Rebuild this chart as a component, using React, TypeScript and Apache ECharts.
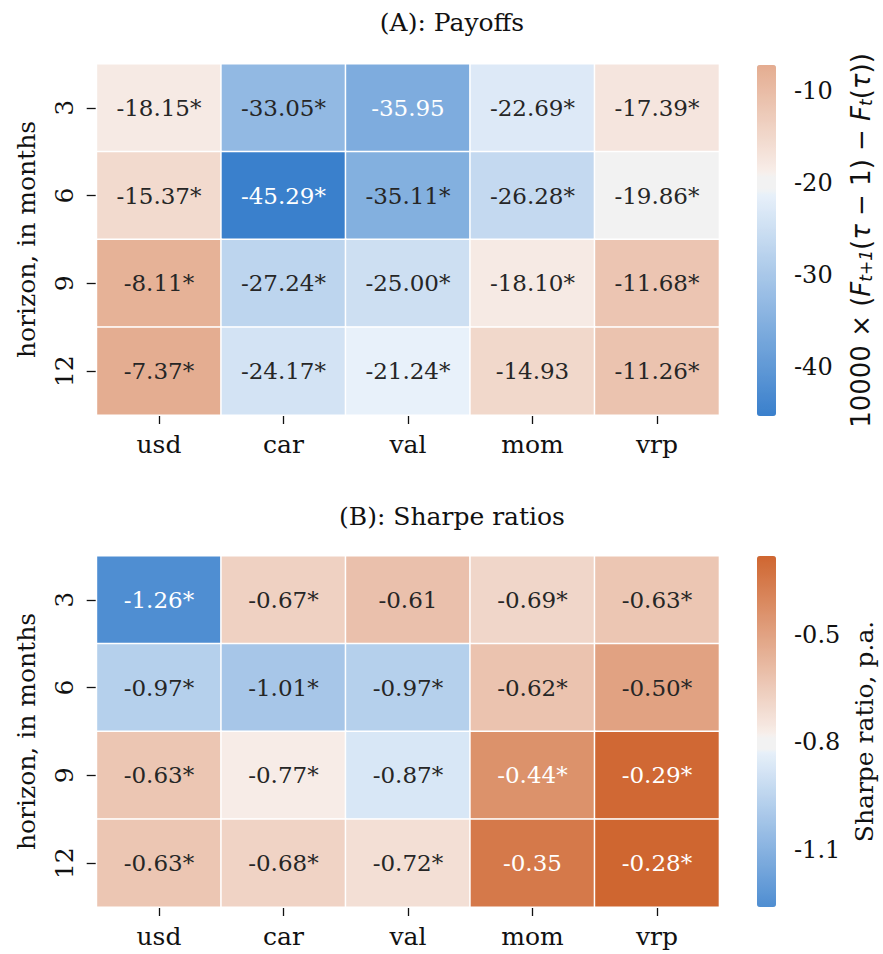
import React, { useEffect, useRef } from "react";
import * as echarts from "echarts";

const factors = ["usd", "car", "val", "mom", "vrp"];
const horizons = ["3", "6", "9", "12"];

// Panel A: payoffs (rows = horizons, cols = factors)
const payoffs = [
  [-18.15, -33.05, -35.95, -22.69, -17.39],
  [-15.37, -45.29, -35.11, -26.28, -19.86],
  [-8.11, -27.24, -25.0, -18.1, -11.68],
  [-7.37, -24.17, -21.24, -14.93, -11.26],
];
const payoffSig = [
  [1, 1, 0, 1, 1],
  [1, 1, 1, 1, 1],
  [1, 1, 1, 1, 1],
  [1, 1, 1, 0, 1],
];

// Panel B: Sharpe ratios
const sharpe = [
  [-1.26, -0.67, -0.61, -0.69, -0.63],
  [-0.97, -1.01, -0.97, -0.62, -0.5],
  [-0.63, -0.77, -0.87, -0.44, -0.29],
  [-0.63, -0.68, -0.72, -0.35, -0.28],
];
const sharpeSig = [
  [1, 1, 0, 1, 1],
  [1, 1, 1, 1, 1],
  [1, 1, 1, 1, 1],
  [1, 1, 1, 0, 1],
];

const payoffTicks = [-40, -30, -20, -10];
const sharpeTicks = [-1.1, -0.8, -0.5];

const payoffRange = { min: -45.29, max: -7.2, center: -20 };
const sharpeRange = { min: -1.26, max: -0.28, center: -0.8 };

const BLUE = [58, 128, 204];
const BLUE_LIGHT = [234, 242, 250];
const MID = [242, 242, 242];
const ORANGE_LIGHT = [248, 239, 235];
const ORANGE = [207, 102, 48];
const BAND = 0.037;

function colorRGB(v: number, r: { min: number; max: number; center: number }) {
  const d = Math.max(r.center - r.min, r.max - r.center);
  let t = (v - r.center) / d;
  t = Math.max(-1, Math.min(1, t));
  const a0 = Math.abs(t);
  if (a0 < BAND) return MID.slice();
  const a = (a0 - BAND) / (1 - BAND);
  const lo = t < 0 ? BLUE_LIGHT : ORANGE_LIGHT;
  const hi = t < 0 ? BLUE : ORANGE;
  return lo.map((m, i) => Math.round(m + a * (hi[i] - m)));
}
function toHex(c: number[]) {
  return "#" + c.map((x) => x.toString(16).padStart(2, "0")).join("");
}
function lum(c: number[]) {
  const lin = c.map((x) => {
    const s = x / 255;
    return s <= 0.03928 ? s / 12.92 : Math.pow((s + 0.055) / 1.055, 2.4);
  });
  return 0.2126 * lin[0] + 0.7152 * lin[1] + 0.0722 * lin[2];
}
function palette(r: { min: number; max: number; center: number }) {
  const out: string[] = [];
  const n = 240;
  for (let i = 0; i <= n; i++) {
    const v = r.min + ((r.max - r.min) * i) / n;
    out.push(toHex(colorRGB(v, r)));
  }
  return out;
}
function buildData(vals: number[][], sig: number[][], r: any) {
  const data: any[] = [];
  vals.forEach((row, ri) =>
    row.forEach((v, ci) => {
      const c = colorRGB(v, r);
      data.push({
        value: [ci, ri, v],
        txt: v.toFixed(2) + (sig[ri][ci] ? "*" : ""),
        label: { color: lum(c) < 0.408 ? "#ffffff" : "#262626" },
      });
    })
  );
  return data;
}

const SERIF = "DejaVu Serif";
const TXT = "#111111";

export default function App() {
  const ref = useRef<HTMLDivElement>(null);
  useEffect(() => {
    document.body.style.margin = "0";
    const chart = echarts.init(ref.current!, null, { renderer: "svg" });
    const gridL = 96.7;
    const gridW = 622.5;
    const gridH = 351;
    const topA = 64;
    const topB = 556;
    const cbL = 757;
    const cbW = 19;

    const catX = (gi: number) => ({
      type: "category",
      gridIndex: gi,
      data: factors,
      axisLine: { show: false },
      axisTick: { show: true, alignWithLabel: true, length: 9, lineStyle: { color: TXT, width: 1.3 } },
      axisLabel: { color: TXT, fontFamily: SERIF, fontSize: 25, margin: 17 },
      splitLine: { show: false },
    });
    const catY = (gi: number) => ({
      type: "category",
      gridIndex: gi,
      data: horizons,
      inverse: true,
      axisLine: { show: false },
      axisTick: { show: true, alignWithLabel: true, length: 10, lineStyle: { color: TXT, width: 1.3 } },
      axisLabel: { color: TXT, fontFamily: SERIF, fontSize: 25, rotate: 90, margin: 20 },
      name: "horizon, in months",
      nameLocation: "middle",
      nameRotate: 90,
      nameGap: 58,
      nameTextStyle: { color: TXT, fontFamily: SERIF, fontSize: 25 },
      splitLine: { show: false },
    });
    const cbAxis = (gi: number, r: any, ticks: number[], fmt: (v: number) => string, name: any, gap: number, rich?: any) => ({
      type: "value",
      gridIndex: gi,
      position: "right",
      min: r.min,
      max: r.max,
      axisLine: { show: false },
      splitLine: { show: false },
      axisTick: { show: true, length: 8, customValues: ticks, lineStyle: { color: TXT, width: 1.3 } },
      axisLabel: {
        show: true,
        customValues: ticks,
        formatter: (v: number) => fmt(v),
        color: TXT,
        fontFamily: SERIF,
        fontSize: 24,
        margin: 18,
      },
      name,
      nameLocation: "middle",
      nameRotate: 90,
      nameGap: gap,
      nameTextStyle: { color: TXT, fontFamily: SERIF, fontSize: 25, rich },
    });

    const cbRich = {
      n: { fontFamily: "DejaVu Sans", fontSize: 26, color: TXT },
      i: { fontFamily: "DejaVu Sans", fontStyle: "italic", fontSize: 26, color: TXT },
      s: { fontFamily: "DejaVu Sans", fontStyle: "italic", fontSize: 17, color: TXT, verticalAlign: "bottom" },
    };
    const cbName =
      "{n|10000 × (}{i|F}{s|t+1}{n|(}{i|τ}{n| − 1) − }{i|F}{s|t}{n|(}{i|τ}{n|))}";

    const heatSeries = (gi: number, data: any[]) => ({
      type: "heatmap",
      xAxisIndex: gi,
      yAxisIndex: gi,
      data,
      itemStyle: { borderColor: "#ffffff", borderWidth: 1.5 },
      label: {
        show: true,
        fontFamily: SERIF,
        fontSize: 23,
        formatter: (p: any) => p.data.txt,
      },
      emphasis: { disabled: true },
    });

    const option: any = {
      animation: false,
      backgroundColor: "#ffffff",
      grid: [
        { left: gridL, top: topA, width: gridW, height: gridH },
        { left: gridL, top: topB, width: gridW, height: gridH },
        { left: cbL, top: topA + 1, width: cbW, height: gridH },
        { left: cbL, top: topB, width: cbW, height: gridH },
      ],
      xAxis: [
        catX(0),
        catX(1),
        { type: "value", gridIndex: 2, show: false },
        { type: "value", gridIndex: 3, show: false },
      ],
      yAxis: [
        catY(0),
        catY(1),
        cbAxis(2, payoffRange, payoffTicks, (v) => String(Math.round(v)), cbName, 72, cbRich),
        cbAxis(3, sharpeRange, sharpeTicks, (v) => v.toFixed(1), "Sharpe ratio, p.a.", 76),
      ],
      visualMap: [
        {
          type: "continuous",
          seriesIndex: 0,
          min: payoffRange.min,
          max: payoffRange.max,
          calculable: false,
          hoverLink: false,
          realtime: false,
          left: cbL,
          top: topA + 1,
          padding: 0,
          itemWidth: cbW,
          itemHeight: gridH,
          text: ["", ""],
          showLabel: false,
          inRange: { color: palette(payoffRange) },
        },
        {
          type: "continuous",
          seriesIndex: 1,
          min: sharpeRange.min,
          max: sharpeRange.max,
          calculable: false,
          hoverLink: false,
          realtime: false,
          left: cbL,
          top: topB,
          padding: 0,
          itemWidth: cbW,
          itemHeight: gridH,
          text: ["", ""],
          showLabel: false,
          inRange: { color: palette(sharpeRange) },
        },
      ],
      graphic: [
        {
          type: "text",
          x: 452,
          y: 22,
          style: {
            text: "(A): Payoffs",
            fontFamily: SERIF,
            fontSize: 25,
            fill: TXT,
            align: "center",
            verticalAlign: "middle",
          },
        },
        {
          type: "text",
          x: 452,
          y: 516,
          style: {
            text: "(B): Sharpe ratios",
            fontFamily: SERIF,
            fontSize: 25,
            fill: TXT,
            align: "center",
            verticalAlign: "middle",
          },
        },
      ],
      series: [
        heatSeries(0, buildData(payoffs, payoffSig, payoffRange)),
        heatSeries(1, buildData(sharpe, sharpeSig, sharpeRange)),
      ],
    };
    chart.setOption(option);
    return () => chart.dispose();
  }, []);
  return <div ref={ref} style={{ width: 883, height: 954 }} />;
}
